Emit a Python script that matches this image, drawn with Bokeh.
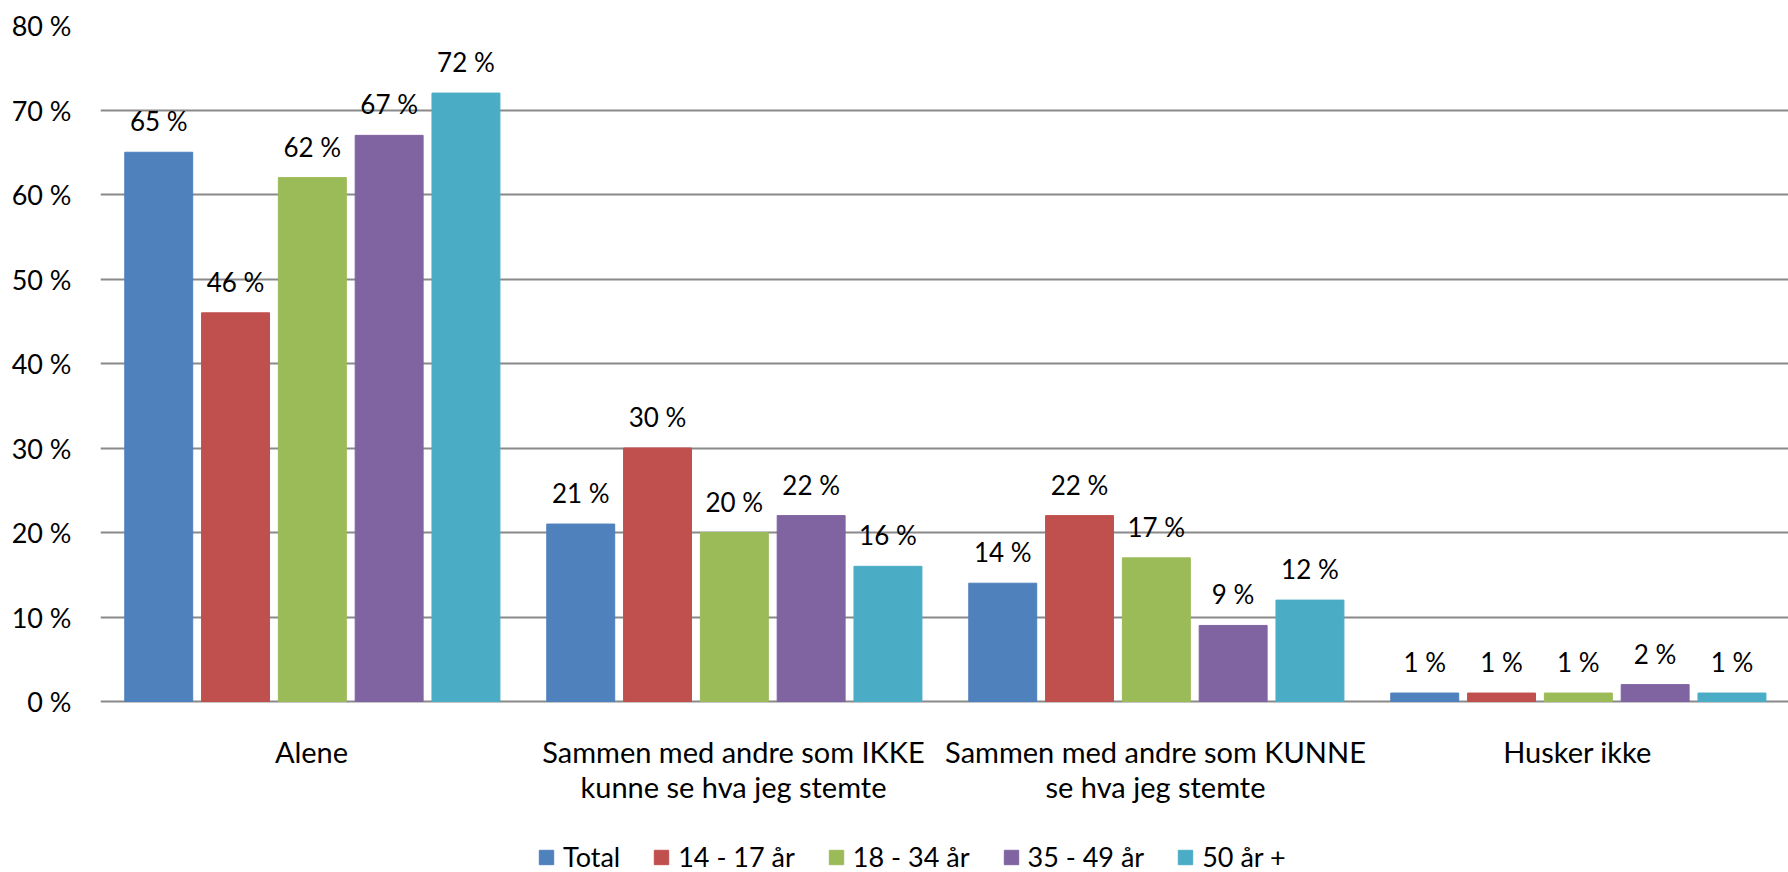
from bokeh.plotting import figure
from bokeh.models import (FactorRange, Range1d, ColumnDataSource, Legend, LegendItem,
                          FixedTicker, PrintfTickFormatter)
from bokeh.transform import dodge
from bokeh.core.properties import value
from bokeh.embed import file_html
from bokeh.resources import INLINE

categories = ["Alene",
              "Sammen med andre som IKKE\nkunne se hva jeg stemte",
              "Sammen med andre som KUNNE\nse hva jeg stemte",
              "Husker ikke"]
series_names = ["Total", "14 - 17 år", "18 - 34 år", "35 - 49 år", "50 år +"]
total = [65, 21, 14, 1]
age_14_17 = [46, 30, 22, 1]
age_18_34 = [62, 20, 17, 1]
age_35_49 = [67, 22, 9, 2]
age_50_plus = [72, 16, 12, 1]
y_ticks = [0, 10, 20, 30, 40, 50, 60, 70, 80]

series_values = [total, age_14_17, age_18_34, age_35_49, age_50_plus]
colors = ["#4F81BD", "#C0504D", "#9BBB59", "#8064A2", "#4BACC6"]
FONT = "Lato"

W, H = 1788, 872
TOP, LEFT = 25, 100
PX_PER_PCT = 676 / 80.0          # 0 % at y=701, 80 % at y=25
y_low = 80 - (H - TOP) / PX_PER_PCT   # extend frame below 0 for category labels + legend

p = figure(x_range=FactorRange(factors=categories, range_padding=0),
           y_range=Range1d(y_low, 80),
           width=W, height=H, x_axis_location=None,
           output_backend="svg", toolbar_location=None,
           min_border_left=LEFT, min_border_right=0, min_border_top=TOP, min_border_bottom=0)
p.outline_line_color = None
p.background_fill_color = "white"

p.xgrid.grid_line_color = None
p.ygrid.grid_line_color = "#898989"
p.ygrid.grid_line_width = 2
p.ygrid.ticker = FixedTicker(ticks=y_ticks)

p.yaxis.ticker = FixedTicker(ticks=y_ticks)
p.yaxis.formatter = PrintfTickFormatter(format="%d %%")
p.yaxis.axis_line_color = None
p.yaxis.major_tick_line_color = None
p.yaxis.minor_tick_line_color = None
p.yaxis.major_label_standoff = 23
p.yaxis.major_label_text_font = FONT
p.yaxis.major_label_text_font_size = "27px"
p.yaxis.major_label_text_color = "black"

offsets = [-0.362, -0.180, 0.002, 0.184, 0.366]
items = []
for name, vals, col, off in zip(series_names, series_values, colors, offsets):
    src = ColumnDataSource(dict(x=categories, y=vals, label=[f"{v} %" for v in vals]))
    r = p.vbar(x=dodge("x", off, range=p.x_range), top="y", width=0.161, source=src,
               fill_color=col, line_color=col)
    p.text(x=dodge("x", off, range=p.x_range), y="y", text="label", source=src,
           text_align="center", text_baseline="middle", y_offset=-31,
           text_font=value(FONT), text_font_size="26px", text_color="black")
    items.append(LegendItem(label=name, renderers=[r]))

# category labels under the 0 % line
cat_src = ColumnDataSource(dict(x=categories, y=[0] * len(categories), label=categories))
p.text(x="x", y="y", text="label", source=cat_src,
       text_align="center", text_baseline="top", y_offset=32,
       text_font=value(FONT), text_font_size="29px", text_color="black",
       text_line_height=1.0)

legend = Legend(items=items, orientation="horizontal", location=(437, -1),
                glyph_width=18, glyph_height=18, label_standoff=8, spacing=32,
                label_text_font=FONT, label_text_font_size="27px", label_text_color="black",
                border_line_color=None, background_fill_alpha=0, padding=0, margin=0)
p.add_layout(legend)

open("out.html", "w").write(file_html(p, INLINE))
